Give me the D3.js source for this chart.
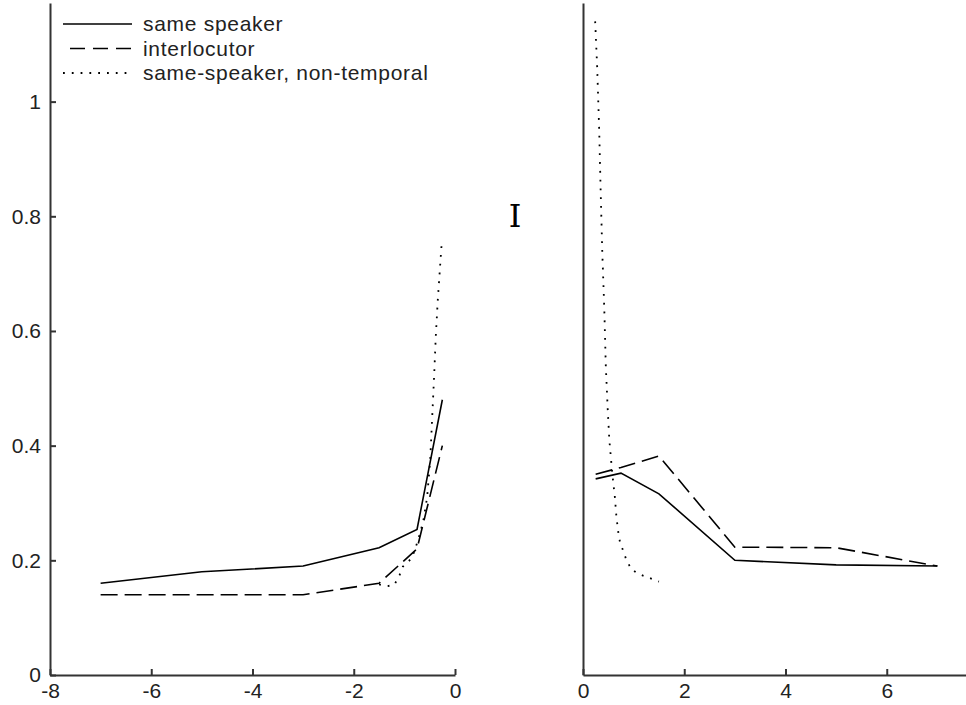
<!DOCTYPE html>
<html>
<head>
<meta charset="utf-8">
<script src="https://cdn.jsdelivr.net/npm/d3@7/dist/d3.min.js"></script>
<style>
  body { margin: 0; background: #fff; }
  svg { display: block; }
  .axis text { font-family: "Liberation Sans", Arial, sans-serif; font-size: 21px; fill: #222; }
  .axis path, .axis line { stroke: #333; stroke-width: 2; }
  .legend text { font-family: "Liberation Sans", Arial, sans-serif; font-size: 21px; fill: #222; letter-spacing: 0.7px; }
</style>
</head>
<body>
<div class="chart"></div>
<script>
// series names
var seriesNames = ["same speaker", "interlocutor", "same-speaker, non-temporal"];

// left panel (negative lag)
var leftLags = [-7, -5, -3, -1.5, -0.75, -0.25];
var leftSame = [0.16, 0.18, 0.19, 0.222, 0.254, 0.48];
var leftInter = [0.14, 0.14, 0.14, 0.16, 0.22, 0.40];
var leftNonTempX = [-1.5, -1.34, -1.2, -1.1, -1.03, -0.85, -0.73, -0.63, -0.55, -0.49, -0.45, -0.41, -0.38, -0.34, -0.30, -0.26];
var leftNonTempY = [0.158, 0.155, 0.157, 0.173, 0.189, 0.204, 0.235, 0.267, 0.31, 0.375, 0.45, 0.526, 0.59, 0.654, 0.706, 0.757];

// right panel (positive lag)
var rightLags = [0.25, 0.75, 1.5, 3, 5, 7];
var rightSame = [0.342, 0.352, 0.316, 0.2, 0.192, 0.19];
var rightInter = [0.35, 0.362, 0.382, 0.223, 0.222, 0.19];
var rightNonTempX = [0.24, 0.28, 0.32, 0.35, 0.38, 0.42, 0.45, 0.49, 0.52, 0.55, 0.58, 0.63, 0.66, 0.70, 0.73, 0.80, 0.86, 0.96, 1.1, 1.29, 1.5];
var rightNonTempY = [1.14, 1.06, 0.95, 0.84, 0.74, 0.64, 0.54, 0.46, 0.41, 0.38, 0.35, 0.31, 0.276, 0.247, 0.232, 0.215, 0.20, 0.184, 0.176, 0.17, 0.163];

// ticks
var yTicks = [0, 0.2, 0.4, 0.6, 0.8, 1];
var leftXTicks = [-8, -6, -4, -2, 0];
var rightXTicks = [0, 2, 4, 6];

var width = 966, height = 705;

var svg = d3.select("div.chart").append("svg")
  .attr("width", width)
  .attr("height", height);

var xLeft = d3.scaleLinear().domain([-8, 0]).range([50, 455]);
var xRight = d3.scaleLinear().domain([0, 8]).range([583, 988]);
var yScale = d3.scaleLinear().domain([0, 1.172]).range([675, 3]);

var styles = [
  { dash: null, width: 1.6 },
  { dash: "17,7", width: 1.6 },
  { dash: "1.8,7", width: 1.8 }
];

function zip(xs, ys) {
  return xs.map((x, i) => [x, ys[i]]);
}

function drawLine(xScale, pts, style) {
  var line = d3.line()
    .x(d => xScale(d[0]))
    .y(d => yScale(d[1]));
  svg.append("path")
    .datum(pts)
    .attr("d", line)
    .attr("fill", "none")
    .attr("stroke", "#000")
    .attr("stroke-width", style.width)
    .attr("stroke-dasharray", style.dash);
}

var fmt = d => String(+d.toFixed(1));

// left axes
svg.append("g")
  .attr("class", "axis")
  .attr("transform", "translate(50,0)")
  .call(d3.axisLeft(yScale).tickValues(yTicks).tickSizeInner(-6).tickSizeOuter(0).tickPadding(9).tickFormat(fmt));

svg.append("g")
  .attr("class", "axis")
  .attr("transform", "translate(0,675)")
  .call(d3.axisBottom(xLeft).tickValues(leftXTicks).tickSizeInner(-6).tickSizeOuter(0).tickPadding(8).tickFormat(fmt));

// right axes
svg.append("g")
  .attr("class", "axis")
  .attr("transform", "translate(583,0)")
  .call(d3.axisLeft(yScale).tickValues([]).tickSizeOuter(0));

svg.append("g")
  .attr("class", "axis")
  .attr("transform", "translate(0,675)")
  .call(d3.axisBottom(xRight).tickValues(rightXTicks).tickSizeInner(-6).tickSizeOuter(0).tickPadding(8).tickFormat(fmt));

svg.selectAll(".axis .domain").attr("stroke-width", 2.5);

// data lines
drawLine(xLeft, zip(leftLags, leftSame), styles[0]);
drawLine(xLeft, zip(leftLags, leftInter), styles[1]);
drawLine(xLeft, zip(leftNonTempX, leftNonTempY), styles[2]);
drawLine(xRight, zip(rightLags, rightSame), styles[0]);
drawLine(xRight, zip(rightLags, rightInter), styles[1]);
drawLine(xRight, zip(rightNonTempX, rightNonTempY), styles[2]);

// legend
var legend = svg.append("g").attr("class", "legend");
seriesNames.forEach(function(name, i) {
  var ly = 24 + i * 24.5;
  legend.append("line")
    .attr("x1", i === 1 ? 70 : 63).attr("x2", 132)
    .attr("y1", ly).attr("y2", ly)
    .attr("stroke", "#000")
    .attr("stroke-width", styles[i].width)
    .attr("stroke-dasharray", i === 1 ? "15,8" : styles[i].dash);
  legend.append("text")
    .attr("x", 143)
    .attr("y", ly + 7)
    .text(name);
});

// text cursor glyph captured in the figure
svg.append("text")
  .attr("x", 515)
  .attr("y", 227)
  .attr("text-anchor", "middle")
  .style("font-family", "'DejaVu Serif', serif")
  .style("font-size", "32px")
  .text("I");
</script>
</body>
</html>
